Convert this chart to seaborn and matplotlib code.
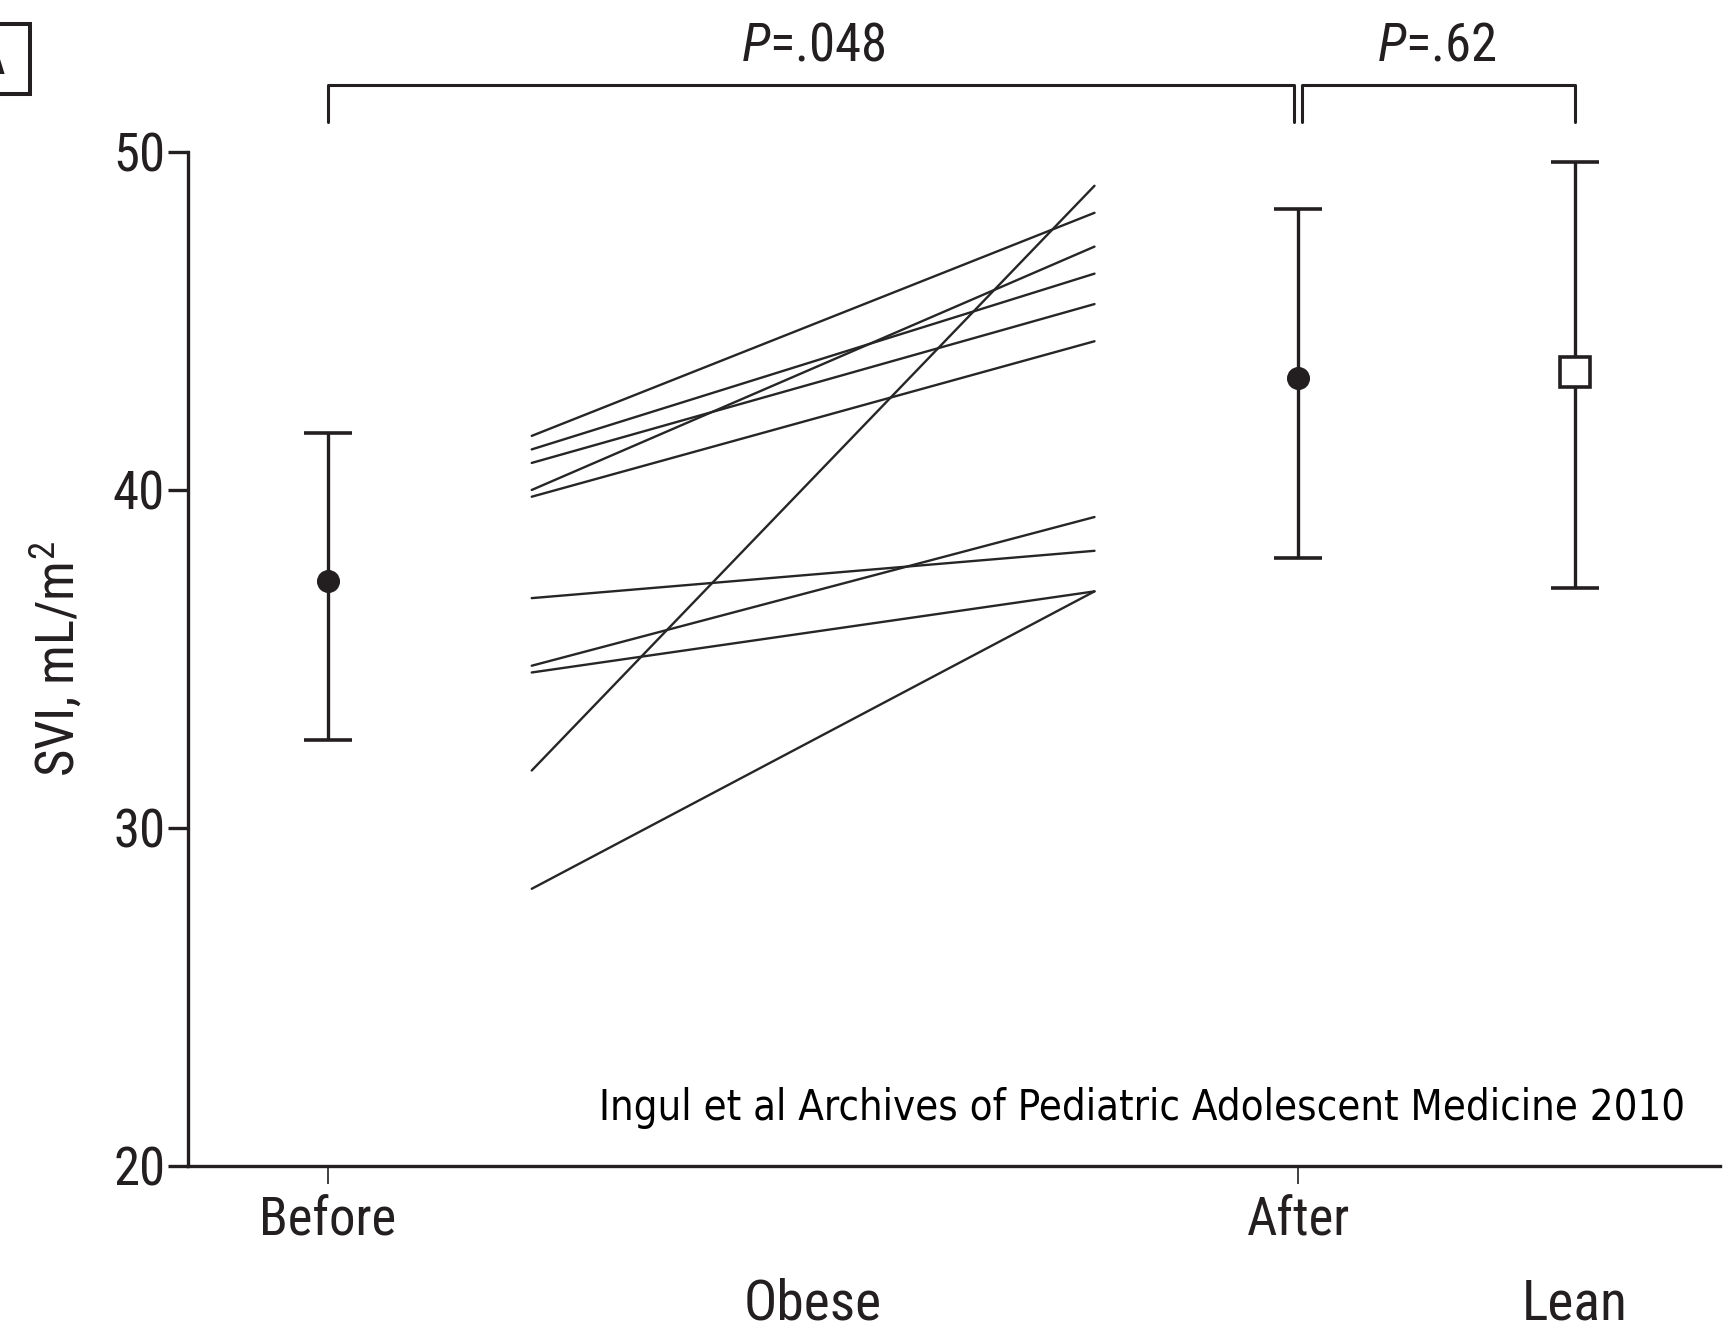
import matplotlib
matplotlib.use('Agg')
import matplotlib.pyplot as plt
import numpy as np
import pandas as pd
import seaborn as sns
from matplotlib import font_manager
from matplotlib.patches import Rectangle

# SVI (mL/m2) of each obese subject before and after the programme
svi_before = [41.6, 40.0, 41.2, 40.8, 39.8, 31.7, 36.8, 34.8, 34.6, 28.2]
svi_after = [48.2, 47.2, 46.4, 45.5, 44.4, 49.0, 38.2, 39.2, 37.0, 37.0]

# group summaries
groups = ['Before', 'After', 'Lean']
group_mean = [37.3, 43.3, 43.5]
group_low = [32.6, 38.0, 37.1]
group_high = [41.7, 48.3, 49.7]

p_values = ['.048', '.62']

# layout
pos = {'Before': 0.0, 'After': 1.0, 'Lean': 1.285}
line_x = [0.21, 0.79]
dark = '#231f20'


def pick_condensed():
    # look for a narrow sans among the installed fonts
    narrow_stretch = {'ultra-condensed', 'extra-condensed', 'condensed', 'semi-condensed'}
    fonts = font_manager.fontManager.ttflist
    names = {f.name for f in fonts}
    for nm in ['Liberation Sans Narrow', 'Roboto Condensed', 'Open Sans Condensed',
               'Noto Sans Condensed']:
        if nm in names:
            return nm, 'normal'
    for nm in ['Roboto', 'Noto Sans', 'Open Sans', 'Liberation Sans', 'DejaVu Sans']:
        for f in fonts:
            if f.name == nm and str(f.stretch) in narrow_stretch and f.style == 'normal':
                return nm, str(f.stretch)
    return 'Liberation Sans', 'normal'


sns.set_style('ticks')
fam, stretch = pick_condensed()
plt.rcParams['font.family'] = [fam, 'DejaVu Sans']
plt.rcParams['font.stretch'] = stretch
plt.rcParams['mathtext.fontset'] = 'custom'
plt.rcParams['mathtext.rm'] = f'{fam}:stretch={stretch}'
plt.rcParams['mathtext.it'] = f'{fam}:style=italic:stretch={stretch}'

fig = plt.figure(figsize=(17.29, 13.33), dpi=100)
ax = fig.add_axes([0.1087, 0.1253, 0.8863, 0.7607])

n = len(svi_before)
df = pd.DataFrame({
    'subject': np.repeat(np.arange(n), 2),
    'x': np.tile(line_x, n),
    'svi': np.column_stack([svi_before, svi_after]).ravel(),
})
sns.lineplot(data=df, x='x', y='svi', units='subject', estimator=None,
             color='#262626', lw=1.7, ax=ax, legend=False)

for g, m, lo, hi in zip(groups, group_mean, group_low, group_high):
    lean = g == 'Lean'
    ax.errorbar(pos[g], m, yerr=[[m - lo], [hi - m]], fmt='s' if lean else 'o',
                ms=21 if lean else 14, mfc='white' if lean else dark, mec=dark,
                mew=2.6, ecolor=dark, elinewidth=2.4,
                capsize=17, capthick=2.6, zorder=3)

ax.set_xlim(-0.1443, 1.435)
ax.set_ylim(20, 50)
ax.set_xticks([0, 1], ['Before', 'After'])
ax.set_yticks([20, 30, 40, 50])
ax.tick_params(axis='x', length=13, width=1.2, pad=8, labelsize=38, color=dark,
               labelcolor=dark)
ax.tick_params(axis='y', length=14.4, width=2.4, pad=2, labelsize=38, color=dark,
               labelcolor=dark)
for s in ['top', 'right']:
    ax.spines[s].set_visible(False)
for s in ['left', 'bottom']:
    ax.spines[s].set_linewidth(2.4)
    ax.spines[s].set_color(dark)
ax.set_xlabel('')
ax.set_ylabel('SVI, mL/m$^{2}$', fontsize=38, labelpad=20, color=dark)

# brackets with P values
y_top, y_drop = 51.98, 50.9
brackets = [(pos['Before'], pos['After'] - 0.004), (pos['After'] + 0.004, pos['Lean'])]
centres = [(pos['Before'] + pos['After']) / 2, (pos['After'] + pos['Lean']) / 2]
for (x0, x1), xc, p in zip(brackets, centres, p_values):
    ax.plot([x0, x0, x1, x1], [y_drop, y_top, y_top, y_drop], color=dark, lw=2.2,
            clip_on=False)
    ax.text(xc, 52.7, f'$P$=' + p, ha='center', va='baseline', fontsize=38, color=dark)

ax.text(0.5, 15.45, 'Obese', ha='center', va='baseline', fontsize=40, color=dark)
ax.text(pos['Lean'], 15.45, 'Lean', ha='center', va='baseline', fontsize=40, color=dark)

ax.text(0.977, 0.057, 'Ingul et al Archives of Pediatric Adolescent Medicine 2010',
        transform=ax.transAxes, ha='right', va='center', fontsize=30,
        family='DejaVu Sans', fontstretch='condensed', color='black')

# panel letter box cut off at the left edge
fig.patches.append(Rectangle((-40 / 1729, 1 - 94 / 1333), 70 / 1729, 70 / 1333,
                             transform=fig.transFigure, fill=False, lw=2.9,
                             edgecolor=dark))
fig.text(-12 / 1729, 1 - 59 / 1333, 'A', ha='center', va='center', fontsize=40,
         fontweight='bold', color=dark)

fig.savefig('out.png', dpi=100)
